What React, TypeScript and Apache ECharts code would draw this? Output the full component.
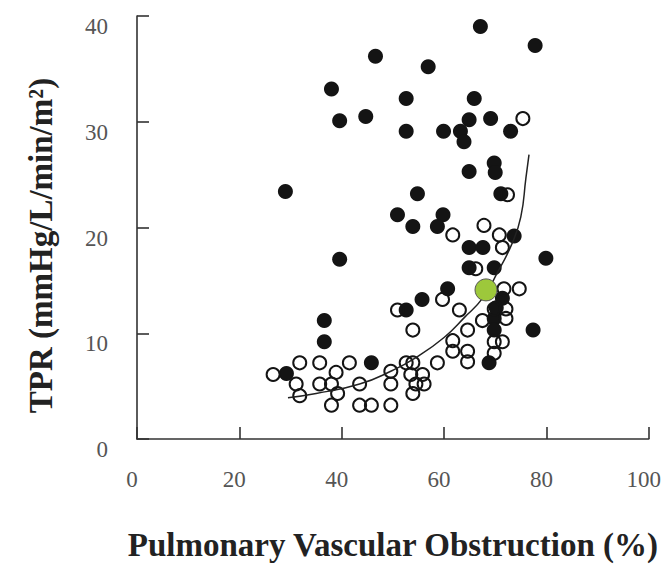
import React, { useEffect, useRef } from "react";
import * as echarts from "echarts";

// Tick values
const xTicks = [0, 20, 40, 60, 80, 100];
const yTicks = [0, 10, 20, 30, 40];

// Filled (black) points
const filledX = [67.1, 77.8, 46.6, 56.9, 38.0, 52.6, 65.9, 39.6, 44.7, 52.6, 59.9, 64.9, 63.2, 63.9, 69.1, 73.0, 64.9, 69.8, 70.0, 29.0, 54.8, 71.1, 50.9, 53.9, 59.8, 58.7, 73.7, 64.9, 67.6, 39.6, 79.9, 64.9, 69.8, 60.7, 55.7, 52.6, 36.6, 36.6, 77.4, 71.4, 69.8, 69.8, 70.2, 68.8, 45.8, 29.2];
const filledY = [39.0, 37.2, 36.2, 35.2, 33.1, 32.2, 32.2, 30.1, 30.5, 29.1, 29.1, 30.2, 29.1, 28.1, 30.3, 29.1, 25.3, 26.1, 25.2, 23.4, 23.2, 23.2, 21.2, 20.1, 21.2, 20.1, 19.2, 18.1, 18.1, 17.0, 17.1, 16.2, 16.2, 14.2, 13.2, 12.2, 11.2, 9.2, 10.3, 13.3, 11.4, 10.3, 12.4, 7.2, 7.2, 6.2];

// Open (ring) points
const openX = [75.4, 67.8, 61.7, 70.8, 71.4, 71.7, 74.7, 59.7, 63.0, 50.9, 53.9, 67.5, 69.8, 72.1, 72.1, 64.6, 61.7, 61.7, 64.6, 64.6, 69.8, 71.4, 69.8, 58.7, 52.6, 53.9, 53.5, 55.8, 54.5, 56.1, 53.9, 49.6, 49.6, 49.6, 43.5, 43.5, 45.8, 41.5, 38.9, 38.0, 39.2, 38.0, 35.7, 35.7, 31.8, 31.1, 31.8, 26.6, 72.4, 66.2];
const openY = [30.3, 20.2, 19.3, 19.3, 18.1, 14.2, 14.2, 13.2, 12.2, 12.2, 10.3, 11.2, 12.3, 12.3, 11.4, 10.3, 9.3, 8.3, 8.3, 7.3, 9.2, 9.2, 8.1, 7.2, 7.2, 7.2, 6.1, 6.1, 5.2, 5.2, 4.3, 6.4, 5.2, 3.2, 5.2, 3.2, 3.2, 7.2, 6.3, 5.2, 4.3, 3.2, 7.2, 5.2, 7.2, 5.2, 4.1, 6.1, 23.1, 16.1];

// Highlighted point
const highlightX = [68.2];
const highlightY = [14.1];

// Fitted curve
const curveX = [29.5, 35, 43.5, 50, 54.5, 60, 64, 67.5, 70.5, 73.3, 75, 76, 76.6];
const curveY = [3.9, 4.3, 5.2, 6.5, 7.7, 9.6, 11.5, 13.3, 15.8, 18.5, 21, 24.7, 26.9];

const zip = (xs: number[], ys: number[]) => xs.map((x, i) => [x, ys[i]]);

export default function App() {
  const ref = useRef<HTMLDivElement>(null);
  useEffect(() => {
    if (!ref.current) return;
    const chart = echarts.init(ref.current, null, { renderer: "svg" });
    const serif = "Liberation Serif";
    const axisColor = "#333";
    chart.setOption({
      animation: false,
      backgroundColor: "#fff",
      grid: { left: 137, right: 14, top: 16, bottom: 120 },
      xAxis: {
        type: "value",
        min: xTicks[0],
        max: xTicks[xTicks.length - 1],
        interval: xTicks[1] - xTicks[0],
        axisLine: { show: true, lineStyle: { color: axisColor, width: 1.6 } },
        axisTick: { show: true, inside: true, length: 12, lineStyle: { color: axisColor, width: 1.6 } },
        splitLine: { show: false },
        axisLabel: { fontFamily: serif, fontSize: 23, color: "#555", margin: 29, padding: [0, 10, 0, 0] },
        name: "Pulmonary Vascular Obstruction (%)",
        nameLocation: "middle",
        nameGap: 89,
        nameTextStyle: { fontFamily: serif, fontWeight: "bold", fontSize: 33, color: "#222" },
      },
      yAxis: {
        type: "value",
        min: yTicks[0],
        max: yTicks[yTicks.length - 1],
        interval: yTicks[1] - yTicks[0],
        axisLine: { show: true, lineStyle: { color: axisColor, width: 1.6 } },
        axisTick: { show: true, inside: true, length: 12, lineStyle: { color: axisColor, width: 1.6 } },
        splitLine: { show: false },
        axisLabel: { fontFamily: serif, fontSize: 23, color: "#555", margin: 29, verticalAlign: "top", padding: [-1, 0, 0, 0] },
        name: "TPR (mmHg/L/min/m²)",
        nameLocation: "middle",
        nameGap: 80,
        nameTextStyle: { fontFamily: serif, fontWeight: "bold", fontSize: 33, color: "#222", padding: [0, 36, 0, 0] },
      },
      series: [
        {
          type: "scatter",
          name: "filled",
          data: zip(filledX, filledY),
          symbol: "circle",
          symbolSize: 15,
          itemStyle: { color: "#141414", opacity: 1 },
          z: 2,
        },
        {
          type: "scatter",
          name: "open",
          data: zip(openX, openY),
          symbol: "circle",
          symbolSize: 13,
          itemStyle: { color: "rgba(255,255,255,0)", borderColor: "#141414", borderWidth: 2, opacity: 1 },
          z: 3,
        },
        {
          type: "line",
          name: "curve",
          data: zip(curveX, curveY),
          smooth: true,
          showSymbol: false,
          lineStyle: { color: "#222", width: 1.5 },
          z: 4,
        },
        {
          type: "scatter",
          name: "highlight",
          data: zip(highlightX, highlightY),
          symbol: "circle",
          symbolSize: 22,
          itemStyle: { color: "#9dc83b", borderColor: "#555", borderWidth: 1, opacity: 1 },
          z: 5,
        },
      ],
    });
    return () => chart.dispose();
  }, []);
  return (
    <div
      ref={ref}
      style={{ position: "fixed", left: 0, top: 0, width: 664, height: 566, background: "#fff" }}
    />
  );
}
